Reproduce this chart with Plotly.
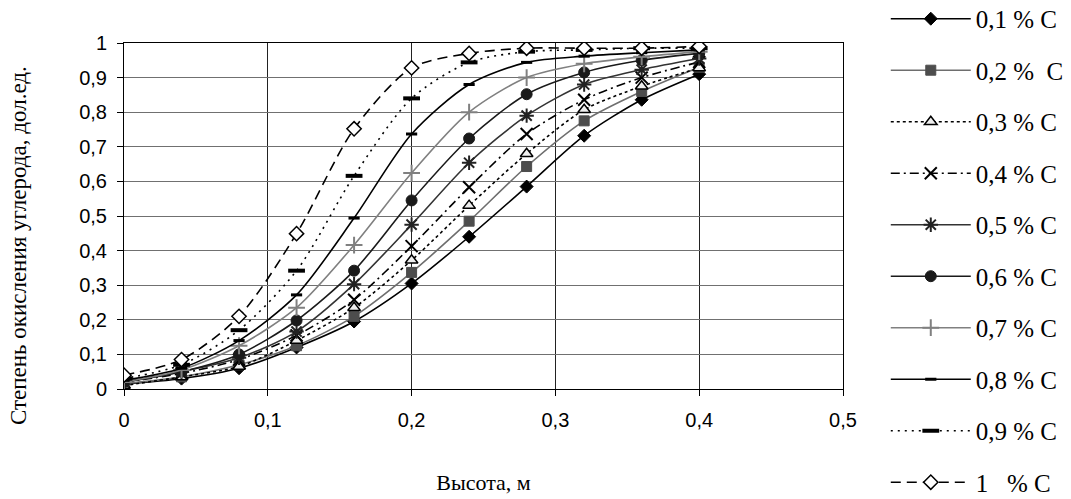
import plotly.graph_objects as go

heights = [0, 0.04, 0.08, 0.12, 0.16, 0.2, 0.24, 0.28, 0.32, 0.36, 0.4]

c01 = [0.015, 0.03, 0.06, 0.12, 0.195, 0.305, 0.44, 0.585, 0.732, 0.836, 0.91]
c02 = [0.015, 0.035, 0.07, 0.125, 0.21, 0.337, 0.485, 0.643, 0.775, 0.86, 0.93]
c03 = [0.01, 0.035, 0.065, 0.14, 0.235, 0.372, 0.53, 0.68, 0.807, 0.875, 0.928]
c04 = [0.02, 0.045, 0.085, 0.155, 0.258, 0.413, 0.583, 0.737, 0.836, 0.9, 0.945]
c05 = [0.02, 0.05, 0.09, 0.166, 0.303, 0.475, 0.654, 0.79, 0.88, 0.923, 0.955]
c06 = [0.02, 0.05, 0.1, 0.198, 0.342, 0.545, 0.724, 0.852, 0.915, 0.95, 0.97]
c07 = [0.02, 0.055, 0.125, 0.235, 0.416, 0.624, 0.8, 0.9, 0.94, 0.96, 0.975]
c08 = [0.025, 0.06, 0.14, 0.272, 0.494, 0.737, 0.88, 0.944, 0.962, 0.972, 0.98]
c09 = [0.03, 0.07, 0.17, 0.342, 0.616, 0.84, 0.944, 0.975, 0.98, 0.985, 0.985]
c10 = [0.04, 0.085, 0.21, 0.449, 0.752, 0.928, 0.97, 0.985, 0.985, 0.985, 0.99]

names = ["0,1 % C", "0,2 %  C", "0,3 % C", "0,4 % C", "0,5 % C",
         "0,6 % C", "0,7 % C", "0,8 % C", "0,9 % C", "1   % C"]
x_ticks = [0, 0.1, 0.2, 0.3, 0.4, 0.5]
x_tick_text = ["0", "0,1", "0,2", "0,3", "0,4", "0,5"]
y_ticks = [0, 0.1, 0.2, 0.3, 0.4, 0.5, 0.6, 0.7, 0.8, 0.9, 1]
y_tick_text = ["0", "0,1", "0,2", "0,3", "0,4", "0,5", "0,6", "0,7", "0,8", "0,9", "1"]
x_title = "Высота, м"
y_title = "Степень окисления углерода, дол.ед."

series = [c01, c02, c03, c04, c05, c06, c07, c08, c09, c10]

styles = [
    dict(lc="#000000", dash="solid", sym="diamond", ms=10, mc="#000000", mlc="#000000", mlw=1),
    dict(lc="#6e6e6e", dash="solid", sym="square", ms=10, mc="#4d4d4d", mlc="#4d4d4d", mlw=1),
    dict(lc="#000000", dash="3px,3px", sym="triangle-up", ms=11, mc="#eeeeee", mlc="#000000", mlw=1.5),
    dict(lc="#000000", dash="9px,4px,2px,4px", sym="x-thin-open", ms=12, mc="#000000", mlc="#000000", mlw=2),
    dict(lc="#333333", dash="solid", sym="asterisk-open", ms=12, mc="#222222", mlc="#222222", mlw=2),
    dict(lc="#1a1a1a", dash="solid", sym="circle", ms=11, mc="#1a1a1a", mlc="#1a1a1a", mlw=1),
    dict(lc="#808080", dash="solid", sym="cross-thin-open", ms=12, mc="#808080", mlc="#808080", mlw=2),
    dict(lc="#000000", dash="solid", sym="line-ew-open", ms=8, mc="#000000", mlc="#000000", mlw=3),
    dict(lc="#000000", dash="2px,5px", sym="line-ew-open", ms=12, mc="#000000", mlc="#000000", mlw=4),
    dict(lc="#000000", dash="10px,6px", sym="diamond", ms=11, mc="#ffffff", mlc="#000000", mlw=1.5),
]

fig = go.Figure()
for i, (vals, nm, st) in enumerate(zip(series, names, styles)):
    fig.add_trace(go.Scatter(
        x=heights, y=vals, name=nm, mode="lines+markers",
        legendgroup=f"g{i}",
        line=dict(color=st["lc"], width=1.6, dash=st["dash"], shape="spline", smoothing=0.8),
        marker=dict(symbol=st["sym"], size=st["ms"], color=st["mc"],
                    line=dict(color=st["mlc"], width=st["mlw"])),
    ))

fig.update_layout(
    width=1071, height=499,
    margin=dict(l=124, r=228, t=43, b=110, autoexpand=False),
    paper_bgcolor="white", plot_bgcolor="white",
    showlegend=True,
    legend=dict(
        x=1.0595, y=1.136, xanchor="left", yanchor="top",
        font=dict(family="Liberation Serif", size=25, color="#000"),
        itemwidth=80, tracegroupgap=16, maxheight=1000,
        bgcolor="rgba(0,0,0,0)",
    ),
    font=dict(family="Liberation Sans", size=20, color="#000"),
    annotations=[dict(
        text=y_title, xref="paper", yref="paper",
        x=-0.1474, y=0.413, xanchor="center", yanchor="middle",
        textangle=-90, showarrow=False,
        font=dict(family="Liberation Serif", size=23, color="#000"),
    )],
)
fig.update_xaxes(
    range=[0, 0.5], tickvals=x_ticks, ticktext=x_tick_text,
    showgrid=True, gridcolor="#222222", gridwidth=1,
    showline=True, linecolor="#000", linewidth=1, mirror=True,
    ticks="outside", ticklen=6, tickcolor="#000",
    ticklabelstandoff=7,
    zeroline=False, automargin=False,
    tickfont=dict(family="Liberation Sans", size=20),
    title=dict(text=x_title, font=dict(family="Liberation Serif", size=22), standoff=44),
)
fig.update_yaxes(
    range=[0, 1], tickvals=y_ticks, ticktext=y_tick_text,
    showgrid=True, gridcolor="#707070", gridwidth=1,
    showline=True, linecolor="#000", linewidth=1, mirror=True,
    ticks="outside", ticklen=6, tickcolor="#000",
    ticklabelstandoff=6,
    zeroline=False, automargin=False,
    tickfont=dict(family="Liberation Sans", size=20),
)

fig.write_html("out.html", config={"displayModeBar": False},
               post_script="document.body.style.margin='0';document.body.style.overflow='hidden';")
